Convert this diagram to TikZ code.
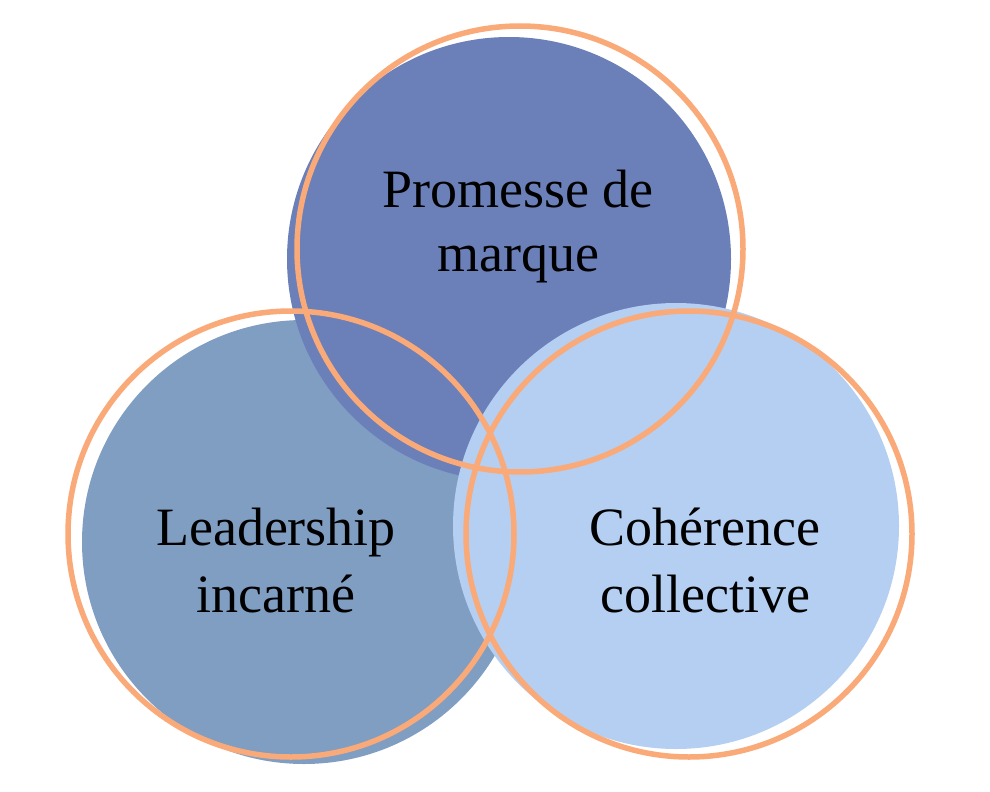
\documentclass[tikz,border=0pt]{standalone}
\usepackage{fontspec}
\setmainfont{Liberation Serif}
\definecolor{topblue}{HTML}{6B80B9}
\definecolor{leftblue}{HTML}{809DC2}
\definecolor{rightblue}{HTML}{B4CFF2}
\definecolor{ringorange}{HTML}{FAAA78}
\tikzset{
  ring/.style={draw=ringorange, line width=5.5pt},
  lbl/.style={anchor=base, inner sep=0pt, font=\fontsize{54}{64}\selectfont, text=black}
}
\begin{document}
\begin{tikzpicture}[x=1pt,y=-1pt]
\useasboundingbox (0,0) rectangle (990,792);
\fill[white] (0,0) rectangle (990,792);
% filled discs
\fill[leftblue] (304,542) circle[radius=222pt];
\fill[topblue] (509,259) circle[radius=222pt];
\fill[rightblue] (676,526) circle[radius=223pt];
% orange rings
\draw[ring] (520,249) circle[radius=223pt];
\draw[ring] (291,534) circle[radius=223pt];
\draw[ring] (689,534) circle[radius=223pt];
% labels
\node[lbl] (t1) at (518,207) {Promesse de};
\node[lbl] (t2) at (518,271) {marque};
\node[lbl] (l1) at (276,545) {Leadership};
\node[lbl] (l2) at (276,612) {incarné};
\node[lbl] (r1) at (705,545) {Cohérence};
\node[lbl] (r2) at (705,612) {collective};
\end{tikzpicture}
\end{document}
